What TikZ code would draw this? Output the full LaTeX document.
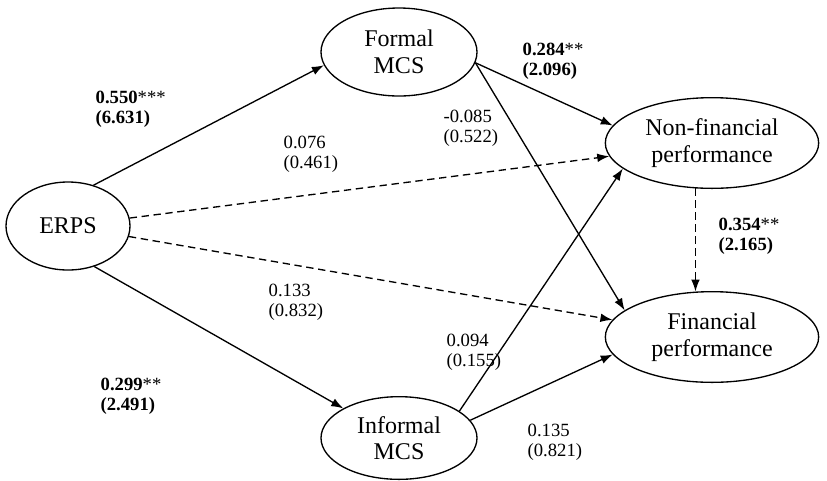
\documentclass[tikz,border=0pt]{standalone}
\usepackage{fontspec}
\setmainfont{Liberation Serif}
\usetikzlibrary{arrows.meta,shapes.geometric}

\begin{document}
\begin{tikzpicture}[x=0.75pt,y=-0.75pt,>={Latex[length=9pt,width=6.5pt]},line width=1pt]
\tikzstyle{construct} = [ellipse, draw, inner sep=0pt, align=center, font=\fontsize{18}{20}\selectfont]
\tikzstyle{coef} = [anchor=west, align=left, inner sep=0pt, font=\fontsize{14}{15}\selectfont]
\tikzstyle{weak} = [dash pattern=on 5.5pt off 3.5pt]
\useasboundingbox (0,0) rectangle (827,480);
\node[construct, minimum width=93pt, minimum height=66pt] (erps) at (68,226) {ERPS};
\node[construct, minimum width=117pt, minimum height=66pt] (formal) at (399,52) {Formal\\MCS};
\node[construct, minimum width=117pt, minimum height=62pt] (informal) at (399,438) {Informal\\MCS};
\node[construct, minimum width=160pt, minimum height=68pt] (nonfin) at (712,143) {Non-financial\\performance};
\node[construct, minimum width=160pt, minimum height=68pt] (fin) at (712,337) {Financial\\performance};
% paths
\draw[->] (erps.58) -- (formal.190);
\draw[->] (erps.-57) -- (informal.152);
\draw[->, weak] (erps) -- (nonfin);
\draw[->, weak] (erps) -- (fin);
\draw[->] (formal.-8) -- (nonfin.170);
\draw[->] (formal.-8) -- (fin.163);
\draw[->] (informal.24) -- (nonfin.196);
\draw[->] (informal.14) -- (fin.190);
\draw[->, weak] (nonfin.250) -- (fin.110);
% coefficients
\node[coef] (c1) at (95,109) {\textbf{0.550}***\\\textbf{(6.631)}};
\node[coef] (c2) at (283,154) {0.076\\(0.461)};
\node[coef] (c3) at (443,128) {-0.085\\(0.522)};
\node[coef] (c4) at (522,61) {\textbf{0.284}**\\\textbf{(2.096)}};
\node[coef] (c5) at (718,236) {\textbf{0.354}**\\\textbf{(2.165)}};
\node[coef] (c6) at (268,302) {0.133\\(0.832)};
\node[coef] (c7) at (446,352) {0.094\\(0.155)};
\node[coef] (c8) at (527,442) {0.135\\(0.821)};
\node[coef] (c9) at (100,396) {\textbf{0.299}**\\\textbf{(2.491)}};
\end{tikzpicture}
\end{document}
